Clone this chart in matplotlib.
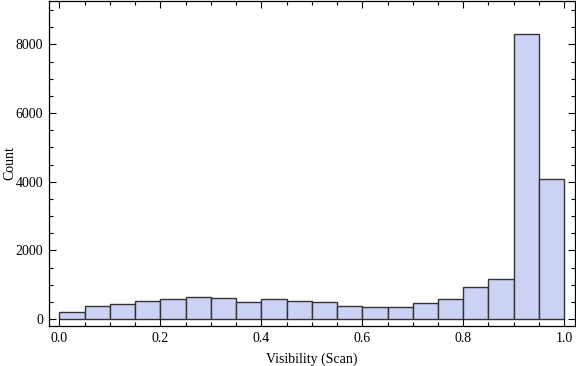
import numpy as np
import matplotlib.pyplot as plt
from matplotlib.ticker import MultipleLocator

# bin edges 0..1 step 0.05 and counts
bin_edges = np.round(np.arange(0, 1.0001, 0.05), 2)
counts = [200, 370, 436, 523, 581, 640, 610, 494, 581, 523,
          494, 370, 341, 341, 465, 600, 930, 1163, 8305, 4090]

x_label = 'Visibility (Scan)'
y_label = 'Count'

plt.rcParams['font.family'] = ['Liberation Serif', 'DejaVu Serif']

fig = plt.figure(figsize=(5.76, 3.66), dpi=100)
ax = fig.add_axes([0.0845, 0.109, 0.9135, 0.889])

ax.hist(bin_edges[:-1], bins=bin_edges, weights=counts,
        color=(0.80, 0.824, 0.965), edgecolor='#333333', linewidth=1.0)

ax.set_xlim(-0.021, 1.021)
ax.set_ylim(-203, 9273)

ax.xaxis.set_minor_locator(MultipleLocator(0.05))
ax.yaxis.set_major_locator(MultipleLocator(2000))
ax.yaxis.set_minor_locator(MultipleLocator(500))
ax.set_xticks(np.arange(0, 1.01, 0.2))
ax.set_xticklabels(['0.0', '0.2', '0.4', '0.6', '0.8', '1.0'])

ax.tick_params(which='both', direction='in', top=True, right=True,
               labelsize=10, width=0.8, pad=4)
ax.tick_params(which='major', length=5)
ax.tick_params(which='minor', length=3)

for s in ax.spines.values():
    s.set_linewidth(0.9)

ax.set_xlabel(x_label, fontsize=10, labelpad=6)
ax.set_ylabel(y_label, fontsize=10, va='center')
ax.yaxis.set_label_coords(-0.074, 0.5)

fig.savefig('out.png', dpi=100)
